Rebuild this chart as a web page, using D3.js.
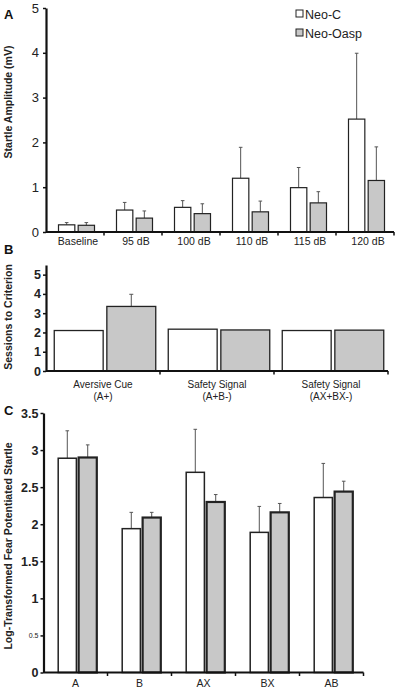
<!DOCTYPE html>
<html><head><meta charset="utf-8">
<script src="https://cdn.jsdelivr.net/npm/d3@7"></script>
<style>
body{margin:0;background:#fff;}
svg{display:block;font-family:"Liberation Sans",Arial,sans-serif;}
</style></head>
<body>
<svg id="c" width="397" height="688"></svg>
<script>
// ---------- DATA ----------
const series = ["Neo-C", "Neo-Oasp"];
const colors = ["#ffffff", "#c8c8c8"];

const catsA = ["Baseline", "95 dB", "100 dB", "110 dB", "115 dB", "120 dB"];
const neoC_A = [0.16, 0.49, 0.55, 1.20, 0.99, 2.52];
const neoC_Aerr = [0.05, 0.17, 0.15, 0.69, 0.45, 1.47];
const oasp_A = [0.15, 0.31, 0.41, 0.45, 0.65, 1.15];
const oasp_Aerr = [0.06, 0.16, 0.22, 0.24, 0.25, 0.75];
const ticksA = [0, 1, 2, 3, 4, 5];

const catsB = [["Aversive Cue", "(A+)"], ["Safety Signal", "(A+B-)"], ["Safety Signal", "(AX+BX-)"]];
const neoC_B = [2.1, 2.17, 2.1];
const neoC_Berr = [0, 0, 0];
const oasp_B = [3.35, 2.13, 2.12];
const oasp_Berr = [0.63, 0, 0];
const ticksB = [0, 1, 2, 3, 4, 5];

const catsC = ["A", "B", "AX", "BX", "AB"];
const neoC_C = [2.89, 1.94, 2.70, 1.89, 2.36];
const neoC_Cerr = [0.37, 0.22, 0.58, 0.35, 0.46];
const oasp_C = [2.90, 2.09, 2.30, 2.16, 2.44];
const oasp_Cerr = [0.17, 0.07, 0.10, 0.12, 0.14];
const ticksC = [0, 0.5, 1, 1.5, 2, 2.5, 3, 3.5];

// ---------- DRAW ----------
const svg = d3.select("#c");

function panel(o) {
  const g = svg.append("g");
  const x = d3.scaleBand().domain(o.cats.map((d, i) => i)).range(o.xr).padding(0);
  const y = d3.scaleLinear().domain(o.yd).range(o.yr);
  const xs = d3.scaleBand().domain(series).range([-o.gw / 2, o.gw / 2]).paddingInner(o.pin);
  const data = [];
  o.cats.forEach((c, i) => {
    series.forEach((s, j) => {
      data.push({i, s, j, v: o.vals[j][i], e: o.errs[j][i]});
    });
  });
  const cx = d => x(d.i) + x.bandwidth() / 2 + o.off + xs(d.s);
  // error bars
  const eb = data.filter(d => d.e > 0);
  g.selectAll(".eb").data(eb).enter().append("line")
    .attr("x1", d => cx(d) + xs.bandwidth() / 2).attr("x2", d => cx(d) + xs.bandwidth() / 2)
    .attr("y1", d => y(d.v)).attr("y2", d => y(d.v + d.e))
    .attr("stroke", "#555").attr("stroke-width", 1);
  g.selectAll(".cap").data(eb).enter().append("line")
    .attr("x1", d => cx(d) + xs.bandwidth() / 2 - o.cap).attr("x2", d => cx(d) + xs.bandwidth() / 2 + o.cap)
    .attr("y1", d => y(d.v + d.e)).attr("y2", d => y(d.v + d.e))
    .attr("stroke", "#555").attr("stroke-width", 1);
  // bars
  g.selectAll(".bar").data(data).enter().append("rect")
    .attr("x", d => cx(d)).attr("width", xs.bandwidth())
    .attr("y", d => y(d.v)).attr("height", d => y(0) - y(d.v))
    .attr("fill", d => colors[d.j]).attr("stroke", "#222")
    .attr("stroke-width", d => o.sw[d.j]);
  // y axis
  const ya = d3.axisLeft(y).tickValues(o.ticks).tickSize(3).tickSizeOuter(0)
    .tickFormat(o.fmt || (d => d));
  const yg = g.append("g").attr("transform", `translate(${o.xr[0]},0)`).call(ya);
  yg.select(".domain").attr("stroke", "#111").attr("stroke-width", 2.2);
  yg.selectAll(".tick line").attr("stroke", "#111").attr("stroke-width", 1.5);
  yg.selectAll(".tick text").attr("fill", "#222").attr("font-size", o.tfs)
    .attr("font-weight", o.tfw).attr("x", -o.tpad);
  if (o.small) yg.selectAll(".tick text").filter(d => d === o.small).attr("font-size", 7).attr("font-weight", "normal");
  // x axis line
  g.append("line").attr("x1", o.xr[0]).attr("x2", o.xr[1]).attr("y1", y(0)).attr("y2", y(0))
    .attr("stroke", "#111").attr("stroke-width", 2.2);
  // boundary ticks
  const bounds = o.cats.map((c, i) => x(i) + x.bandwidth());
  g.selectAll(".bt").data(bounds).enter().append("line")
    .attr("x1", d => d).attr("x2", d => d).attr("y1", y(0)).attr("y2", y(0) + 3.5)
    .attr("stroke", "#111").attr("stroke-width", 1.5);
  // x labels
  o.cats.forEach((c, i) => {
    const lines = Array.isArray(c) ? c : [c];
    lines.forEach((t, k) => {
      g.append("text").attr("x", x(i) + x.bandwidth() / 2 + o.loff).attr("y", y(0) + o.ly + k * o.lh)
        .attr("text-anchor", "middle").attr("font-size", o.xfs).attr("fill", "#222").text(t);
    });
  });
  // y title
  g.append("text").attr("transform", `translate(${o.tx},${o.ty}) rotate(-90)`)
    .attr("text-anchor", "middle").attr("font-size", o.ttfs).attr("font-weight", "bold")
    .attr("fill", "#222").text(o.title);
  // panel letter
  g.append("text").attr("x", 4).attr("y", o.ly0).attr("font-size", 13).attr("font-weight", "bold")
    .attr("fill", "#111").text(o.letter);
  return {x, y};
}

panel({
  cats: catsA, vals: [neoC_A, oasp_A], errs: [neoC_Aerr, oasp_Aerr],
  xr: [46, 394], yd: [0, 5], yr: [232, 8], gw: 36, pin: 0.17, off: 1.5, cap: 1.8,
  sw: [1.2, 1.2], ticks: ticksA, tfs: 13, tfw: "normal", tpad: 7,
  xfs: 10.5, ly: 13, lh: 12, loff: 3,
  tx: 11.5, ty: 102, ttfs: 10.5, title: "Startle Amplitude (mV)", letter: "A", ly0: 19
});

// legend
const lg = svg.append("g");
series.forEach((s, j) => {
  lg.append("rect").attr("x", 296).attr("y", 10 + j * 19).attr("width", 7).attr("height", 7)
    .attr("fill", colors[j]).attr("stroke", "#222").attr("stroke-width", 1);
  lg.append("text").attr("x", 305).attr("y", 18.5 + j * 19).attr("font-size", 12.5)
    .attr("fill", "#222").text(s);
});

panel({
  cats: catsB, vals: [neoC_B, oasp_B], errs: [neoC_Berr, oasp_Berr],
  xr: [46, 388], yd: [0, 5.5], yr: [371, 265], gw: 101.5, pin: 0.07, off: 2, cap: 2,
  sw: [1.3, 1.3], ticks: ticksB, tfs: 12.5, tfw: "bold", tpad: 5,
  xfs: 10, ly: 17, lh: 12, loff: 0,
  tx: 11.5, ty: 317, ttfs: 10.5, title: "Sessions to Criterion", letter: "B", ly0: 254
});

panel({
  cats: catsC, vals: [neoC_C, oasp_C], errs: [neoC_Cerr, oasp_Cerr],
  xr: [43.5, 363.5], yd: [0, 3.5], yr: [672.5, 413], gw: 38.6, pin: 0.11, off: 2, cap: 1.8,
  sw: [1.5, 2.2], ticks: ticksC, tfs: 12.5, tfw: "bold", tpad: 5, small: 0.5,
  xfs: 10.5, ly: 14, lh: 12, loff: 0,
  tx: 11.5, ty: 546, ttfs: 10.5, title: "Log-Transformed Fear Potentiated Startle", letter: "C", ly0: 415
});
</script>
</body></html>
